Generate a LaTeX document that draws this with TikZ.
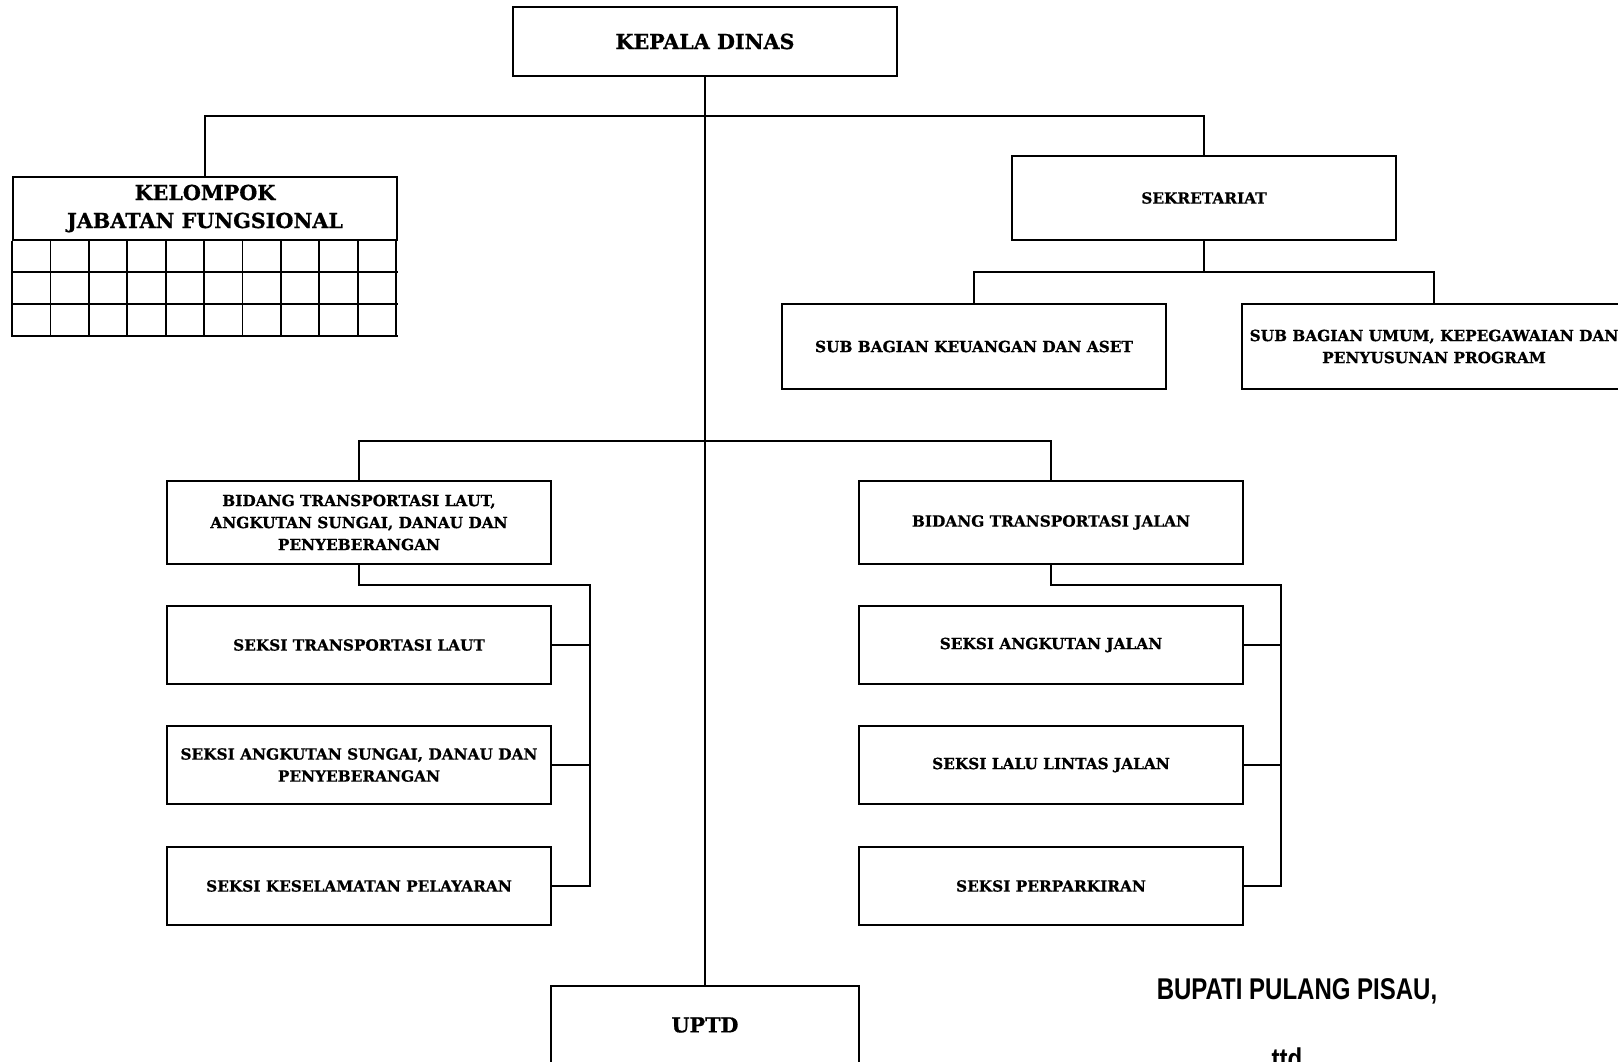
\documentclass[tikz,border=0pt]{standalone}
\usepackage{fontspec}
\usetikzlibrary{calc}
\setmainfont{DejaVu Serif}[BoldFeatures={FakeBold=0.8}]
\newfontfamily\signfont[FakeStretch=0.8]{Liberation Sans}
\begin{document}
\begin{tikzpicture}[x=0.75pt,y=-0.75pt,
  line width=1.4pt,
  box/.style={draw,line width=1.4pt,rectangle,inner sep=0pt,minimum width=288pt,align=center,
    font=\bfseries\fontsize{11.5}{16.5}\selectfont},
  bigbox/.style={box,font=\bfseries\fontsize{15.5}{21}\selectfont},
  sign/.style={inner sep=0pt,font=\signfont\bfseries\fontsize{22.5}{26}\selectfont}]
\useasboundingbox (0,0) rectangle (1618,1062);
\begin{scope}
\clip (0,0) rectangle (1618,1062);
% nodes
\node[bigbox,minimum height=51.75pt] (kd) at (705,41.5) {KEPALA DINAS};
\node[bigbox,minimum height=47.25pt] (kjf) at (205,208.5) {KELOMPOK\\JABATAN FUNGSIONAL};
\node[box,minimum height=63pt] (sek) at (1204,198) {SEKRETARIAT};
\node[box,minimum height=63.75pt] (sbk) at (974,346.5) {SUB BAGIAN KEUANGAN DAN ASET};
\node[box,minimum height=63.75pt] (sbu) at (1434,346.5) {SUB BAGIAN UMUM, KEPEGAWAIAN DAN\\PENYUSUNAN PROGRAM};
\node[box,minimum height=62.25pt] (bl) at (359,522.5) {BIDANG TRANSPORTASI LAUT,\\ANGKUTAN SUNGAI, DANAU DAN\\PENYEBERANGAN};
\node[box,minimum height=62.25pt] (bj) at (1051,522.5) {BIDANG TRANSPORTASI JALAN};
\node[box,minimum height=58.5pt] (l1) at (359,645) {SEKSI TRANSPORTASI LAUT};
\node[box,minimum height=58.5pt] (l2) at (359,765) {SEKSI ANGKUTAN SUNGAI, DANAU DAN\\PENYEBERANGAN};
\node[box,minimum height=58.5pt] (l3) at (359,886) {SEKSI KESELAMATAN PELAYARAN};
\node[box,minimum height=58.5pt] (r1) at (1051,645) {SEKSI ANGKUTAN JALAN};
\node[box,minimum height=58.5pt] (r2) at (1051,765) {SEKSI LALU LINTAS JALAN};
\node[box,minimum height=58.5pt] (r3) at (1051,886) {SEKSI PERPARKIRAN};
\node[bigbox,minimum width=231pt,minimum height=58.5pt] (uptd) at (705,1025) {UPTD};
\node[sign] (bup) at (1297,991) {BUPATI PULANG PISAU,};
\node[sign,anchor=north] (ttd) at (1287,1047) {ttd};
% grid under KELOMPOK
\foreach \r in {272,304,336} \draw (kjf.south west |- 0,\r) -- (kjf.south east |- 0,\r);
\foreach \c in {0,...,10} \draw ($(kjf.south west)+(\c*38.4,0)$) -- ($(kjf.south west)+(\c*38.4,96)$);
% junctions
\coordinate (j1) at (705,116);
\coordinate (j2) at (705,441);
\coordinate (j3) at (1204,272);
\coordinate (bkl) at (590,585);
\coordinate (bkr) at (1281,585);
% connectors
\draw (kd.south) -- (uptd.north);
\draw (kjf.north) -- (kjf.north |- j1) -| (sek.north);
\draw (sek.south) -- (j3);
\draw (sbk.north) |- (j3) -| (sbu.north);
\draw (bl.north) -- (bl.north |- j2) -| (bj.north);
\draw (bl.south) |- (bkl) |- (l3.east);
\draw (l1.east) -- (l1.east -| bkl);
\draw (l2.east) -- (l2.east -| bkl);
\draw (bj.south) |- (bkr) |- (r3.east);
\draw (r1.east) -- (r1.east -| bkr);
\draw (r2.east) -- (r2.east -| bkr);
\end{scope}
\end{tikzpicture}
\end{document}
